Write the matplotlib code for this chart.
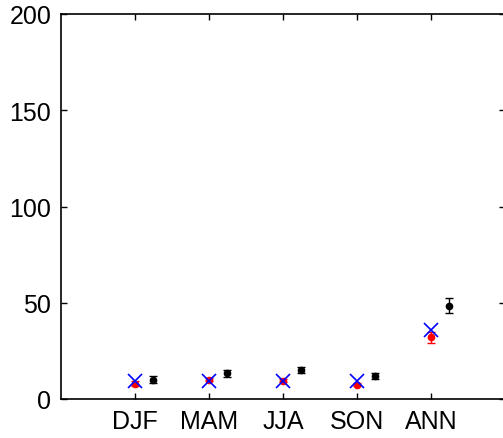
import numpy as np
import matplotlib.pyplot as plt

plt.rcParams['font.family'] = ['Liberation Sans', 'DejaVu Sans']

seasons = ['DJF', 'MAM', 'JJA', 'SON', 'ANN']
red_vals = [8.0, 10.0, 9.5, 7.3, 32.0]
red_err = [1.2, 0.8, 0.8, 0.8, 3.0]
blue_vals = [9.5, 9.2, 9.5, 9.2, 36.0]
black_vals = [9.9, 13.3, 15.0, 12.0, 48.5]
black_err = [1.8, 1.8, 1.5, 1.5, 4.0]

x = np.arange(1, len(seasons) + 1)

fig = plt.figure(figsize=(5.03, 4.39), dpi=100)
ax = fig.add_axes([61 / 503, 39 / 439, 444 / 503, 385 / 439])

ax.errorbar(x, red_vals, yerr=red_err, fmt='.', color='red', ms=9,
            elinewidth=1, capsize=3, capthick=1, zorder=3)
ax.plot(x, blue_vals, 'x', color='blue', ms=10, mew=1.2, zorder=4)
ax.errorbar(x + 0.25, black_vals, yerr=black_err, fmt='.', color='black', ms=9,
            elinewidth=1, capsize=3, capthick=1, zorder=3)

ax.set_xlim(0, 6)
ax.set_ylim(0, 200)
ax.set_xticks(x)
ax.set_xticklabels(seasons)
ax.set_yticks([0, 50, 100, 150, 200])
ax.tick_params(direction='in', length=4, width=1, top=True, right=True,
               labelsize=18, pad=7)
for s in ax.spines.values():
    s.set_linewidth(1.2)

fig.savefig('out.png', dpi=100)
